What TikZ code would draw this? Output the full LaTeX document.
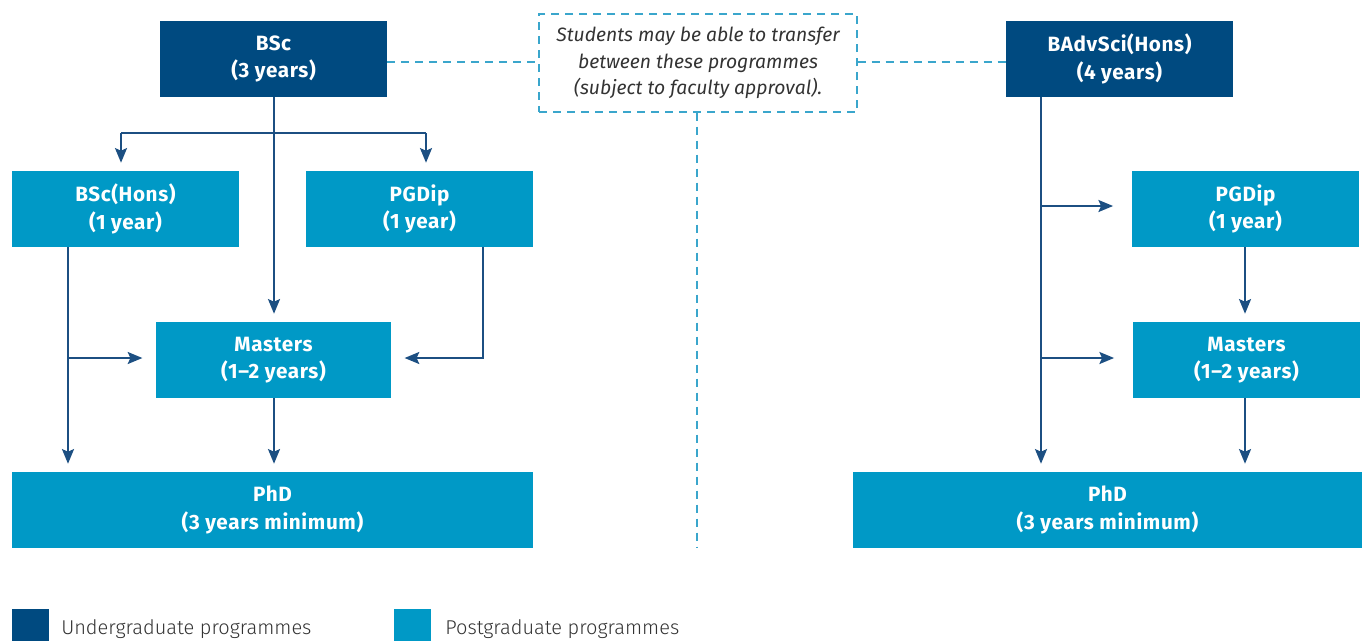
\documentclass[tikz,border=0pt]{standalone}
\usepackage{fontspec}
\setmainfont{Fira Sans}
\newfontfamily\boxfont[LetterSpace=3,Ligatures=TeX]{Fira Sans}
\newfontfamily\legfont{Fira Sans Light}
\usetikzlibrary{arrows.meta}
\definecolor{ugc}{HTML}{004A80}
\definecolor{pgc}{HTML}{0099C6}
\definecolor{arrc}{HTML}{1C4F82}
\definecolor{dshc}{HTML}{3AA6CC}
\definecolor{txtc}{HTML}{333333}
\newcommand\bx[7]{\node[#2, minimum width={(#5-#3)*0.75pt}, minimum height={(#6-#4)*0.75pt}] (#1) at ({(#3+#5)/2},{(#4+#6)/2}) {#7};}
\begin{document}
\begin{tikzpicture}[x=0.75pt,y=-0.75pt,
  boxbase/.style={inner sep=0pt, align=center, text=white, font=\boxfont\bfseries\fontsize{15.5}{20.5}\selectfont},
  ugbox/.style={boxbase, fill=ugc},
  pgbox/.style={boxbase, fill=pgc},
  notebox/.style={draw=dshc, line width=1.1pt, dash pattern=on 6pt off 4.5pt, inner sep=0pt, align=center, text=txtc, font=\itshape\fontsize{14.5}{20}\selectfont},
  dashline/.style={draw=dshc, line width=1.1pt, dash pattern=on 6pt off 4.5pt},
  plain/.style={draw=arrc, line width=1.5pt},
  arrow/.style={draw=arrc, line width=1.5pt, -{Stealth[length=11pt,width=9pt,inset=2pt]}, shorten >=6pt},
  harrow/.style={arrow, shorten >=10pt},
  legsq/.style={fill=#1, minimum size=37*0.75pt, inner sep=0pt, anchor=north west},
  legtext/.style={anchor=base west, text=txtc, inner sep=0pt, font=\legfont\fontsize{15}{18}\selectfont}
]
\useasboundingbox (0,0) rectangle (1362,640);
% boxes
\bx{bsc}{ugbox}{160}{21}{387}{97}{BSc\\(3 years)}
\bx{badv}{ugbox}{1006}{21}{1233}{97}{BAdvSci(Hons)\\(4 years)}
\bx{note}{notebox}{539}{14}{857}{112}{Students may be able to transfer\\between these programmes\\(subject to faculty approval).}
\bx{bschons}{pgbox}{12}{171}{239}{247}{BSc(Hons)\\(1 year)}
\bx{pgdipL}{pgbox}{306}{171}{533}{247}{PGDip\\(1 year)}
\bx{mastL}{pgbox}{156}{322}{391}{398}{Masters\\(1–2 years)}
\bx{phdL}{pgbox}{12}{472}{533}{548}{PhD\\(3 years minimum)}
\bx{pgdipR}{pgbox}{1132}{171}{1359}{247}{PGDip\\(1 year)}
\bx{mastR}{pgbox}{1133}{322}{1360}{398}{Masters\\(1–2 years)}
\bx{phdR}{pgbox}{853}{472}{1362}{548}{PhD\\(3 years minimum)}
% dashed connectors
\coordinate (vend) at (697,548);
\draw[dashline] (bsc.east |- 0,62) -- (note.west |- 0,62);
\draw[dashline] (note.east |- 0,62) -- (badv.west |- 0,62);
\draw[dashline] (note.south -| vend) -- (vend);
% left tree
\coordinate (j1) at (274,133);
\coordinate (jl1) at (121,133);
\coordinate (jr1) at (426,133);
\draw[arrow] (bsc.south -| j1) -- (mastL.north -| j1);
\draw[plain] (jl1) -- (jr1);
\draw[arrow] (jl1) -- (bschons.north -| jl1);
\draw[arrow] (jr1) -- (pgdipL.north -| jr1);
\coordinate (x68) at (68,358);
\draw[arrow] (bschons.south -| x68) -- (phdL.north -| x68);
\draw[harrow] (x68) -- (mastL.west |- x68);
\coordinate (x483) at (483,358);
\draw[harrow] (pgdipL.south -| x483) -- (x483) -- (mastL.east |- x483);
\draw[arrow] (mastL.south -| j1) -- (phdL.north -| j1);
% right tree
\coordinate (r1) at (1041,206);
\coordinate (r2) at (1041,358);
\draw[arrow] (badv.south -| r1) -- (phdR.north -| r1);
\draw[arrow, shorten >=14pt] (r1) -- (pgdipR.west |- r1);
\draw[arrow, shorten >=14pt] (r2) -- (mastR.west |- r2);
\coordinate (r3) at (1245,0);
\draw[arrow] (pgdipR.south -| r3) -- (mastR.north -| r3);
\draw[arrow] (mastR.south -| r3) -- (phdR.north -| r3);
% legend
\node[legsq=ugc] (lug) at (12,609) {};
\node[legtext] (lugt) at (61,634) {Undergraduate programmes};
\node[legsq=pgc] (lpg) at (394,609) {};
\node[legtext] (lpgt) at (445,634) {Postgraduate programmes};
\end{tikzpicture}
\end{document}
